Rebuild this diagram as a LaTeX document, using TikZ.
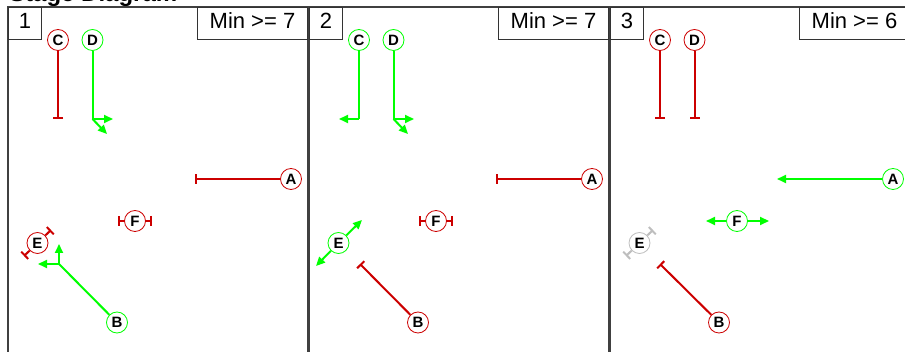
\documentclass[tikz,border=0pt]{standalone}
\usepackage{fontspec}
\setmainfont{Liberation Sans}
\usetikzlibrary{arrows.meta}

\definecolor{stopred}{RGB}{204,0,0}
\definecolor{gogreen}{RGB}{0,255,0}
\definecolor{offgray}{RGB}{190,190,190}

\tikzset{
  sig/.style={circle, draw, fill=white, line width=0.8pt, inner sep=0pt,
    minimum size=21pt, font=\bfseries\fontsize{15}{15}\selectfont},
  sigred/.style={sig, draw=stopred},
  siggreen/.style={sig, draw=gogreen},
  siggray/.style={sig, draw=offgray},
  stopline/.style={stopred, line width=2pt, -{Bar[width=10pt]}},
  offline/.style={offgray, line width=2pt, -{Bar[width=10pt]}},
  goline/.style={gogreen, line width=2pt, -{Triangle[length=9pt,width=8pt]}},
  stem/.style={gogreen, line width=2pt},
  panel/.style={draw=black!75, line width=1.2pt},
  numbox/.style={draw=black!80, line width=1pt, anchor=north west, minimum width=33pt,
    minimum height=32pt, inner sep=0pt, text height=16pt, text depth=6pt,
    font=\fontsize{22}{22}\selectfont},
  minbox/.style={numbox, anchor=north east, minimum width=110pt}
}

\begin{document}
\begin{tikzpicture}[x=1pt,y=-1pt]
  \useasboundingbox (0,0) rectangle (905,352);
  \clip (0,0) rectangle (905,352);
  % title, cut by the top edge
  \node[anchor=base west, inner sep=0pt, font=\bfseries\fontsize{24}{24}\selectfont]
    (title) at (9,1.5) {Stage Diagram};

  % panel 1
  \begin{scope}
    \draw[panel] (8,7) rectangle (308,370);
    \node[numbox] (n1) at (8,7) {1};
    \node[minbox] (m1) at (308,7) {Min >= 7};
    \node[sigred] (C1) at (58,40) {C};
    \node[siggreen] (D1) at (92.5,40) {D};
    \node[sigred] (A1) at (291,179) {A};
    \node[sigred] (F1) at (135,221) {F};
    \node[sigred] (E1) at (37.5,243) {E};
    \node[siggreen] (B1) at (117,322.5) {B};
    \coordinate (c1) at (58,119);
    \coordinate (d1) at (92.5,119);
    \coordinate (d1r) at (113,119);
    \coordinate (d1s) at (107,134);
    \coordinate (a1) at (195,179);
    \coordinate (f1l) at (118,221);
    \coordinate (f1r) at (152,221);
    \coordinate (e1u) at (51,230);
    \coordinate (e1d) at (24,256);
    \coordinate (b1) at (59,264);
    \coordinate (b1u) at (59,244);
    \coordinate (b1l) at (38,264);
    \draw[stopline] (C1) -- (c1);
    \draw[stem] (D1) -- (d1);
    \draw[goline] (d1) -- (d1r);
    \draw[goline] (d1) -- (d1s);
    \draw[stopline] (A1) -- (a1);
    \draw[stopline] (F1) -- (f1l);
    \draw[stopline] (F1) -- (f1r);
    \draw[stopline] (E1) -- (e1u);
    \draw[stopline] (E1) -- (e1d);
    \draw[stem] (B1) -- (b1);
    \draw[goline] (b1) -- (b1u);
    \draw[goline] (b1) -- (b1l);
  \end{scope}

  % panel 2
  \begin{scope}[xshift=301pt]
    \draw[panel] (8,7) rectangle (308,370);
    \node[numbox] (n2) at (8,7) {2};
    \node[minbox] (m2) at (308,7) {Min >= 7};
    \node[siggreen] (C2) at (58,40) {C};
    \node[siggreen] (D2) at (92.5,40) {D};
    \node[sigred] (A2) at (291,179) {A};
    \node[sigred] (F2) at (135,221) {F};
    \node[siggreen] (E2) at (37.5,243) {E};
    \node[sigred] (B2) at (117,322.5) {B};
    \coordinate (c2) at (58,119);
    \coordinate (c2l) at (38,119);
    \coordinate (d2) at (92.5,119);
    \coordinate (d2r) at (113,119);
    \coordinate (d2s) at (107,134);
    \coordinate (a2) at (195,179);
    \coordinate (f2l) at (118,221);
    \coordinate (f2r) at (152,221);
    \coordinate (e2u) at (61,220);
    \coordinate (e2d) at (15,266);
    \coordinate (b2) at (59,264);
    \draw[stem] (C2) -- (c2);
    \draw[goline] (c2) -- (c2l);
    \draw[stem] (D2) -- (d2);
    \draw[goline] (d2) -- (d2r);
    \draw[goline] (d2) -- (d2s);
    \draw[stopline] (A2) -- (a2);
    \draw[stopline] (F2) -- (f2l);
    \draw[stopline] (F2) -- (f2r);
    \draw[goline] (E2) -- (e2u);
    \draw[goline] (E2) -- (e2d);
    \draw[stopline] (B2) -- (b2);
  \end{scope}

  % panel 3
  \begin{scope}[xshift=602pt]
    \draw[panel] (8,7) rectangle (308,370);
    \node[numbox] (n3) at (8,7) {3};
    \node[minbox] (m3) at (308,7) {Min >= 6};
    \node[sigred] (C3) at (58,40) {C};
    \node[sigred] (D3) at (92.5,40) {D};
    \node[siggreen] (A3) at (291,179) {A};
    \node[siggreen] (F3) at (135,221) {F};
    \node[siggray] (E3) at (37.5,243) {E};
    \node[sigred] (B3) at (117,322.5) {B};
    \coordinate (c3) at (58,119);
    \coordinate (d3) at (92.5,119);
    \coordinate (a3) at (175,179);
    \coordinate (f3l) at (104,221);
    \coordinate (f3r) at (167,221);
    \coordinate (e3u) at (51,230);
    \coordinate (e3d) at (24,256);
    \coordinate (b3) at (58,264);
    \draw[stopline] (C3) -- (c3);
    \draw[stopline] (D3) -- (d3);
    \draw[goline] (A3) -- (a3);
    \draw[goline] (F3) -- (f3l);
    \draw[goline] (F3) -- (f3r);
    \draw[offline] (E3) -- (e3u);
    \draw[offline] (E3) -- (e3d);
    \draw[stopline] (B3) -- (b3);
  \end{scope}
\end{tikzpicture}
\end{document}
